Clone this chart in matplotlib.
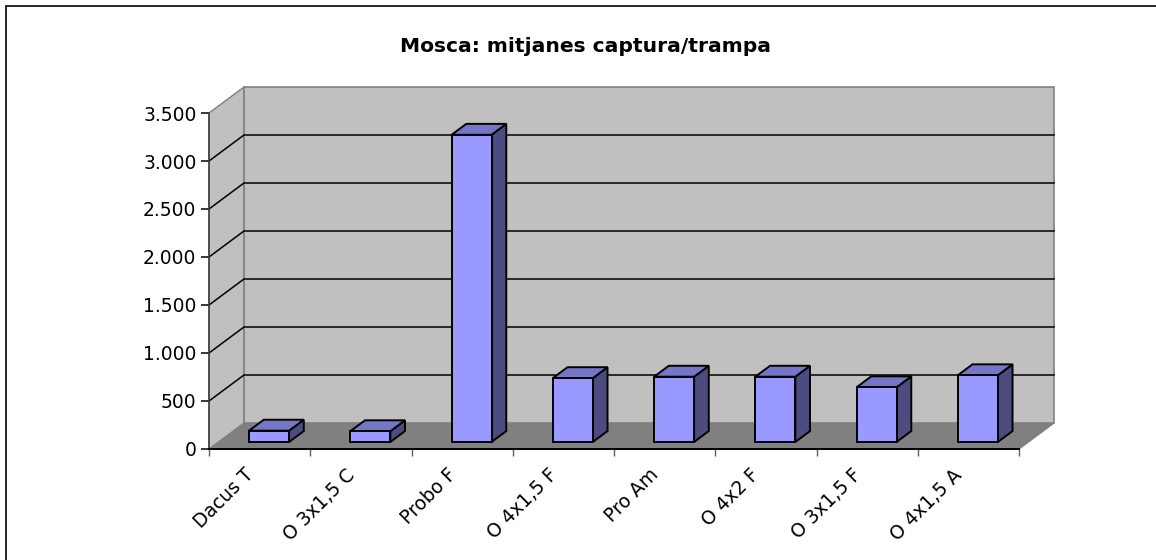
import numpy as np
import matplotlib
matplotlib.use('Agg')
import matplotlib.pyplot as plt
from matplotlib.patches import Polygon, Rectangle
from matplotlib.ticker import FuncFormatter, FixedLocator
import matplotlib.transforms as mtransforms

plt.rcParams['font.family'] = ['DejaVu Sans']

# data
categories = ['Dacus T', 'O 3x1,5 C', 'Probo F', 'O 4x1,5 F', 'Pro Am', 'O 4x2 F', 'O 3x1,5 F', 'O 4x1,5 A']
values = [118, 112, 3200, 665, 680, 680, 570, 695]
yticks = [0, 500, 1000, 1500, 2000, 2500, 3000, 3500]
title = 'Mosca: mitjanes captura/trampa'

W, H = 1156, 560
fig = plt.figure(figsize=(W / 100, H / 100), dpi=100)

# outer chart border (right/bottom edges fall outside the image)
fig.patches.append(Rectangle((6 / W, -0.1), 1.2, 1.1 - 6 / H, transform=fig.transFigure,
                             fill=False, edgecolor='black', lw=1.2))

# front plane of the 3d box
ax = fig.add_axes([209 / W, (H - 449) / H, 810 / W, 336 / H])
n = len(categories)
ymax = 3500
ax.set_xlim(0, n)
ax.set_ylim(0, ymax)
ax.patch.set_visible(False)

# depth offset (oblique projection) in data units
ddx = 35 / (810 / n)
ddy = 26 / (336 / ymax)

wall = '#C0C0C0'
edge = '#808080'
# floor
ax.add_patch(Polygon([(0, 0), (n, 0), (n + ddx, ddy), (ddx, ddy)], closed=True,
                     facecolor='#808080', edgecolor=edge, lw=1, clip_on=False, zorder=1))
# left wall
ax.add_patch(Polygon([(0, 0), (ddx, ddy), (ddx, ymax + ddy), (0, ymax)], closed=True,
                     facecolor=wall, edgecolor=edge, lw=1, clip_on=False, zorder=1))
# back wall
ax.add_patch(Polygon([(ddx, ddy), (n + ddx, ddy), (n + ddx, ymax + ddy), (ddx, ymax + ddy)],
                     closed=True, facecolor=wall, edgecolor=edge, lw=1.2, clip_on=False, zorder=1))

# gridlines
for v in yticks[1:-1]:
    ax.plot([0, ddx, n + ddx], [v, v + ddy, v + ddy], color='black', lw=1.1,
            clip_on=False, zorder=2)

# bars
bw = 0.395
f0, f1 = 0.27, 0.69
front_c, top_c, side_c = '#9999FF', '#7676C8', '#4C4C80'
for i, v in enumerate(values):
    x0 = i + 0.5 - bw / 2 + f0 * ddx
    x1 = x0 + bw
    y0 = f0 * ddy
    y1 = v + f0 * ddy
    ox = (f1 - f0) * ddx
    oy = (f1 - f0) * ddy
    kw = dict(closed=True, edgecolor='black', lw=1.4, clip_on=False, zorder=3, joinstyle='miter')
    ax.add_patch(Polygon([(x1, y0), (x1 + ox, y0 + oy), (x1 + ox, y1 + oy), (x1, y1)],
                         facecolor=side_c, **kw))
    ax.add_patch(Polygon([(x0, y1), (x1, y1), (x1 + ox, y1 + oy), (x0 + ox, y1 + oy)],
                         facecolor=top_c, **kw))
    ax.add_patch(Polygon([(x0, y0), (x1, y0), (x1, y1), (x0, y1)],
                         facecolor=front_c, **kw))

# axes styling
for s in ['top', 'right']:
    ax.spines[s].set_visible(False)
ax.spines['left'].set_color('#404040')
ax.spines['bottom'].set_color('black')
ax.spines['left'].set_linewidth(1.2)
ax.spines['bottom'].set_linewidth(1.4)
ax.spines['bottom'].set_zorder(2)
ax.spines['left'].set_zorder(2)

ax.yaxis.set_major_locator(FixedLocator(yticks))
ax.yaxis.set_major_formatter(FuncFormatter(lambda v, p: f'{int(v):,}'.replace(',', '.')))
ax.tick_params(axis='y', length=6, width=1.1, color='black', labelsize=13.5, pad=3)

ax.xaxis.set_major_locator(FixedLocator(np.arange(n + 1)))
ax.set_xticklabels([])
ax.tick_params(axis='x', length=5, width=1, color='#606060')

# category labels, rotated
off = mtransforms.ScaledTranslation(-0.09, -0.23, fig.dpi_scale_trans)
for i, c in enumerate(categories):
    ax.text(i + 0.5, 0, c, rotation=45, rotation_mode='anchor', ha='right', va='center',
            fontsize=13.5, transform=ax.transData + off)

fig.text(585 / W, 1 - 47 / H, title, ha='center', va='center', fontsize=14.6,
         fontweight='bold')

fig.savefig('out.png', dpi=100)
